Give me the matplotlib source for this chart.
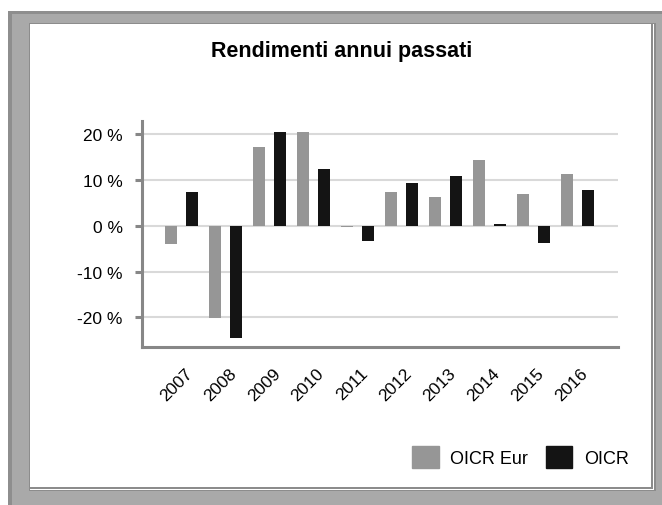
import matplotlib
matplotlib.use('Agg')
import matplotlib.pyplot as plt
import matplotlib.transforms as mtransforms
from matplotlib.patches import Rectangle, Patch
import numpy as np

plt.rcParams['font.family'] = ['Liberation Sans', 'DejaVu Sans']

# Dati
anni = ['2007', '2008', '2009', '2010', '2011', '2012', '2013', '2014', '2015', '2016']
oicr_eur = [-4.0, -20.2, 17.2, 20.5, -0.2, 7.3, 6.3, 14.3, 6.9, 11.3]
oicr = [7.4, -24.5, 20.5, 12.4, -3.4, 9.3, 10.9, 0.4, -3.8, 7.8]
y_ticks = [-20, -10, 0, 10, 20]
y_labels = ['-20 %', '-10 %', '0 %', '10 %', '20 %']

W, H = 662, 506
fig = plt.figure(figsize=(W / 100, H / 100), dpi=100)


def px_rect(x0, y0, x1, y1, color):
    # rettangolo in pixel (origine in alto a sinistra)
    r = Rectangle((x0 / W, 1 - y1 / H), (x1 - x0) / W, (y1 - y0) / H,
                  transform=fig.transFigure, facecolor=color,
                  edgecolor='none', zorder=-10)
    fig.add_artist(r)


# cornice grigia
px_rect(8, 12, 662, 506, '#a9a9a9')
px_rect(8, 12, 662, 15, '#8e8e8e')
px_rect(8, 12, 12, 506, '#8e8e8e')
px_rect(29, 24, 656, 492, '#8c8c8c')
px_rect(30, 25, 654, 491, 'white')
px_rect(30, 25, 653, 490, '#8c8c8c')
px_rect(30, 25, 651, 488, 'white')

ax = fig.add_axes([142 / W, 1 - 348 / H, (618 - 142) / W, (348 - 122) / H])
ax.set_facecolor('none')

x = np.arange(len(anni))
ax.bar(x - 0.24, oicr_eur, width=0.27, color='#969696', label='OICR Eur')
ax.bar(x + 0.24, oicr, width=0.27, color='#141414', label='OICR')

ax.set_xlim(-0.9, 9.93)
ax.set_ylim(-26.5, 22.9)
ax.set_axisbelow(True)
ax.yaxis.grid(True, color='#d9d9d9', linewidth=1.5)

for s in ['top', 'right']:
    ax.spines[s].set_visible(False)
for s in ['left', 'bottom']:
    ax.spines[s].set_color('#878787')
    ax.spines[s].set_linewidth(2.2)

ax.set_yticks(y_ticks)
ax.set_yticklabels(y_labels)
ax.tick_params(axis='y', length=5, width=2.2, color='#878787', pad=9,
               labelsize=12.5, labelcolor='black')

ax.set_xticks(x)
ax.set_xticklabels(anni, rotation=45, ha='right', va='baseline',
                   rotation_mode='anchor')
ax.tick_params(axis='x', length=0, pad=19, labelsize=12.5)
offset = mtransforms.ScaledTranslation(11.5 / 100, 0, fig.dpi_scale_trans)
for lab in ax.get_xticklabels():
    lab.set_transform(lab.get_transform() + offset)

fig.text(342 / W, 1 - 51 / H, 'Rendimenti annui passati', ha='center',
         va='center', fontsize=15.5, fontweight='bold')

handles = [Patch(color='#969696', label='OICR Eur'),
           Patch(color='#141414', label='OICR')]
fig.legend(handles=handles, loc='center right', ncol=2, frameon=False,
           bbox_to_anchor=(629 / W, 1 - 458 / H), fontsize=13,
           handlelength=1.45, handleheight=1.45, handletextpad=0.65,
           columnspacing=1.0, borderpad=0, borderaxespad=0)

fig.savefig('out.png', dpi=100)
